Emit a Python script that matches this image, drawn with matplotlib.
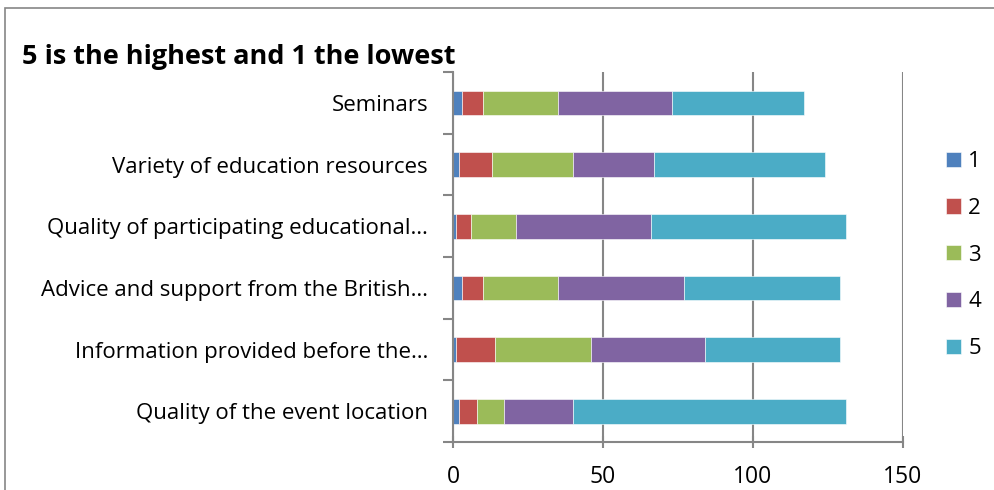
import matplotlib
matplotlib.use("Agg")
import matplotlib.pyplot as plt
from matplotlib.patches import Rectangle
import numpy as np

categories = ["Seminars", "Variety of education resources",
              "Quality of participating educational…",
              "Advice and support from the British…",
              "Information provided before the…",
              "Quality of the event location"]
r1 = [3, 2, 1, 3, 1, 2]
r2 = [7, 11, 5, 7, 13, 6]
r3 = [25, 27, 15, 25, 32, 9]
r4 = [38, 27, 45, 42, 38, 23]
r5 = [44, 57, 65, 52, 45, 91]
series = [r1, r2, r3, r4, r5]
series_labels = ["1", "2", "3", "4", "5"]
colors = ["#4F81BD", "#C0504D", "#9BBB59", "#8064A2", "#4BACC6"]
xticks = [0, 50, 100, 150]
title = "5 is the highest and 1 the lowest"

plt.rcParams['font.family'] = ['Open Sans', 'DejaVu Sans']

W, H = 995, 490
fig = plt.figure(figsize=(W/100, H/100), dpi=100)
ax = fig.add_axes([453/W, 1-442/H, 450/W, 370/H])

n = len(categories)
y = np.arange(n)[::-1]
left = np.zeros(n)
for vals, lab, c in zip(series, series_labels, colors):
    ax.barh(y, vals, left=left, height=0.4, color=c, label=lab,
            edgecolor='white', linewidth=0.4)
    left += np.array(vals)

FS = 16
ax.set_xlim(0, 150)
ax.set_ylim(-0.5, n-0.5)
ax.set_xticks(xticks)
ax.set_xticklabels([str(t) for t in xticks], fontsize=16.5)
ax.set_yticks(y)
ax.set_yticklabels(categories, fontsize=FS)
ax.tick_params(axis='y', length=0, pad=18)
ax.set_yticks(np.arange(-0.5, n, 1), minor=True)
ax.tick_params(axis='y', which='minor', length=7, color='#868686', width=1.5, direction='out')
ax.tick_params(axis='x', length=8, color='#868686', width=1.5, direction='inout', pad=12.5)
ax.xaxis.grid(True, color='#868686', linewidth=1.5)
ax.set_axisbelow(True)
for s in ['top', 'right']:
    ax.spines[s].set_visible(False)
for s in ['left', 'bottom']:
    ax.spines[s].set_color('#868686')
    ax.spines[s].set_linewidth(1.5)

fig.text(22/W, 1-64/H, title, fontsize=19.5, fontweight='bold', ha='left', va='baseline')

handles, labels = ax.get_legend_handles_labels()
leg = fig.legend(handles, labels, loc='upper left', bbox_to_anchor=(926/W, 1-131/H),
                 frameon=False, fontsize=FS, handlelength=0.68, handleheight=0.68,
                 labelspacing=1.16, handletextpad=0.32)

fig.patches.append(Rectangle((5/W, -0.1), 1.2, 1-8/H+0.1, transform=fig.transFigure,
                             fill=False, edgecolor='#868686', linewidth=1.2))

fig.savefig("out.png", dpi=100)
